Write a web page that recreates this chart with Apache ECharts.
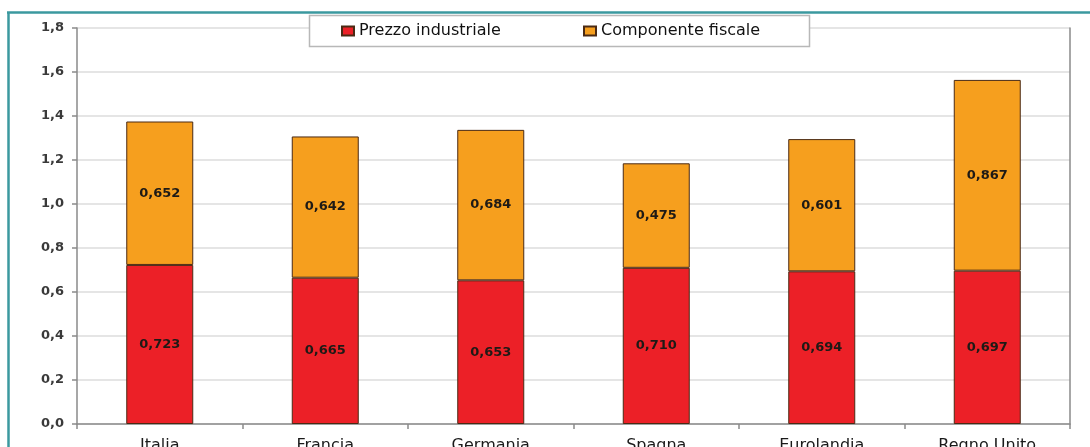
<!DOCTYPE html>
<html>
<head>
<meta charset="utf-8">
<title>Prezzo industriale e componente fiscale</title>
<script src="https://cdn.jsdelivr.net/npm/echarts@6/dist/echarts.min.js"></script>
<style>
  html, body { margin: 0; padding: 0; background: #ffffff; overflow: hidden; }
  #chart { width: 1090px; height: 447px; }
</style>
</head>
<body>
<div id="chart"></div>
<script>
// Paesi sull'asse delle categorie
const categories = ['Italia', 'Francia', 'Germania', 'Spagna', 'Eurolandia', 'Regno Unito'];
// Prezzo industriale (euro/litro)
const prezzoIndustriale = [0.723, 0.665, 0.653, 0.710, 0.694, 0.697];
// Componente fiscale (euro/litro)
const componenteFiscale = [0.652, 0.642, 0.684, 0.475, 0.601, 0.867];
// Nomi delle serie
const seriesNames = ['Prezzo industriale', 'Componente fiscale'];

const fmt = (v, d) => v.toFixed(d).replace('.', ',');
const FONT = 'DejaVu Sans';

const chart = echarts.init(document.getElementById('chart'), null, { renderer: 'canvas' });

const labelStyle = {
  show: true,
  position: 'inside',
  fontFamily: FONT,
  fontWeight: 'bold',
  fontSize: 13,
  color: '#1e1a16',
  formatter: p => fmt(p.value, 3)
};

chart.setOption({
  animation: false,
  backgroundColor: '#ffffff',
  grid: { left: 77, right: 20, top: 28, bottom: 23, containLabel: false, outerBoundsMode: 'none' },
  graphic: [
    {
      // cornice esterna: lato sinistro
      type: 'line', z: 100,
      shape: { x1: 8.5, y1: 12, x2: 8.5, y2: 447 },
      style: { stroke: '#3b999f', lineWidth: 2.5 }
    },
    {
      // cornice esterna: lato superiore
      type: 'line', z: 100,
      shape: { x1: 7, y1: 12.5, x2: 1090, y2: 12.5 },
      style: { stroke: '#3b999f', lineWidth: 2.5 }
    },
    {
      type: 'rect', z: 3,
      shape: { x: 309.5, y: 15.5, width: 500, height: 31 },
      style: { fill: '#ffffff', stroke: '#b8b8b8', lineWidth: 1.5 }
    }
  ],
  legend: [
    {
      data: [seriesNames[0]], left: 341, top: 23, padding: 0, z: 6,
      itemWidth: 12, itemHeight: 9, itemGap: 0,
      icon: 'rect',
      textStyle: { fontFamily: FONT, fontSize: 16, color: '#111111' }
    },
    {
      data: [seriesNames[1]], left: 583, top: 23, padding: 0, z: 6,
      itemWidth: 12, itemHeight: 9, itemGap: 0,
      icon: 'rect',
      textStyle: { fontFamily: FONT, fontSize: 16, color: '#111111' }
    }
  ],
  xAxis: {
    type: 'category',
    data: categories,
    boundaryGap: true,
    axisLine: { lineStyle: { color: '#8a8a8a', width: 1.5 } },
    axisTick: { show: true, alignWithLabel: false, length: 5, lineStyle: { color: '#8a8a8a', width: 1.5 } },
    axisLabel: { fontFamily: FONT, fontSize: 16, color: '#1a1a1a', margin: 14 }
  },
  yAxis: [
    {
      type: 'value',
      min: 0, max: 1.8, interval: 0.2,
      axisLine: { show: true, lineStyle: { color: '#8a8a8a', width: 1.5 } },
      axisTick: { show: true, length: 5, lineStyle: { color: '#8a8a8a', width: 1.5 } },
      splitLine: { show: true, lineStyle: { color: '#dcdcdc', width: 1.5 } },
      axisLabel: {
        fontFamily: FONT, fontWeight: 'bold', fontSize: 13, color: '#3a3a3a', margin: 13,
        formatter: v => fmt(v, 1)
      }
    },
    {
      type: 'value',
      position: 'right',
      min: 0, max: 1.8, interval: 0.2,
      axisLine: { show: true, lineStyle: { color: '#8a8a8a', width: 1.5 } },
      axisTick: { show: false },
      splitLine: { show: false },
      axisLabel: { show: false }
    }
  ],
  series: [
    {
      name: seriesNames[0],
      type: 'bar',
      stack: 'totale',
      barWidth: 67,
      data: prezzoIndustriale,
      itemStyle: { color: '#ec2027', borderColor: '#4a2a14', borderWidth: 1 },
      label: labelStyle
    },
    {
      name: seriesNames[1],
      type: 'bar',
      stack: 'totale',
      barWidth: 67,
      data: componenteFiscale,
      itemStyle: { color: '#f69f1e', borderColor: '#4a2a14', borderWidth: 1 },
      label: labelStyle
    }
  ]
});
</script>
</body>
</html>
